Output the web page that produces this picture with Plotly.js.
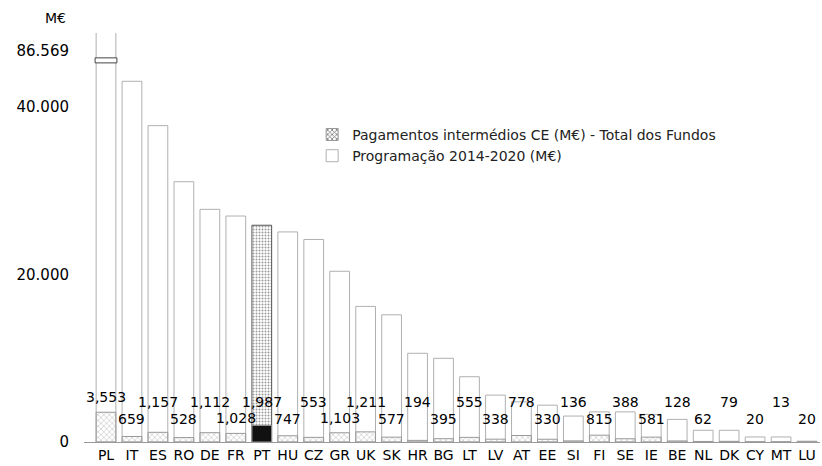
<!DOCTYPE html>
<html>
<head>
<meta charset="utf-8">
<script src="https://cdn.plot.ly/plotly-3.0.1.min.js"></script>
<style>
html,body{margin:0;padding:0;background:#fff;}
#chart{width:822px;height:466px;}
</style>
</head>
<body>
<div id="chart"></div>
<script>
// ---- data ----
const countries = ['PL','IT','ES','RO','DE','FR','PT','HU','CZ','GR','UK','SK','HR','BG','LT','LV','AT','EE','SI','FI','SE','IE','BE','NL','DK','CY','MT','LU'];
const programacao = [86569, 43100, 37800, 31100, 27800, 27000, 25900, 25100, 24200, 20400, 16200, 15200, 10600, 10000, 7800, 5600, 4800, 4400, 3100, 3600, 3600, 3300, 2700, 1400, 1400, 600, 600, 100];
const pagamentos = [3553, 659, 1157, 528, 1112, 1028, 1987, 747, 553, 1103, 1211, 577, 194, 395, 555, 338, 778, 330, 136, 815, 388, 581, 128, 62, 79, 20, 13, 20];
const highlight = 'PT';
const yTickVals = [0, 20000, 40000, 46800];
const yTickText = ['0', '20.000', '40.000', '86.569'];
const seriesNames = ['Pagamentos intermédios CE (M€) - Total dos Fundos', 'Programação 2014-2020 (M€)'];

// ---- layout constants ----
const W = 822, H = 466;
const M = {l: 84, r: 2, t: 33, b: 24};
const yMax = 48870;
const plotH = H - M.t - M.b;
const pxPerUnit = plotH / yMax;
const FONT = 'DejaVu Sans, sans-serif';

const progColors = countries.map(c => c === highlight ? '#9a9a9a' : '#ffffff');
const progLine = countries.map(c => c === highlight ? '#555' : '#b0b0b0');
const progPattern = countries.map(c => c === highlight ? '.' : '');
const pagColors = countries.map(c => c === highlight ? '#111' : '#d6d6d6');
const pagPattern = countries.map(c => c === highlight ? '' : 'x');

const traceProg = {
  type: 'bar', x: countries, y: programacao, name: seriesNames[1],
  marker: {color: progColors, line: {color: progLine, width: 1},
           pattern: {shape: progPattern, fgcolor: '#333', size: 3, solidity: 0.35}},
  hoverinfo: 'x+y'
};
const tracePag = {
  type: 'bar', x: countries, y: pagamentos, name: seriesNames[0],
  marker: {color: pagColors, line: {color: '#999', width: 1},
           pattern: {shape: pagPattern, fgcolor: '#666', size: 4, solidity: 0.4}},
  hoverinfo: 'x+y'
};

const annotations = countries.map((c, i) => {
  const tier = (i % 2 === 0) ? 30 : 13;
  const shift = Math.max(tier, pagamentos[i] * pxPerUnit + 5);
  return {
    x: c, y: 0, xref: 'x', yref: 'y', yanchor: 'bottom', yshift: shift,
    text: pagamentos[i].toLocaleString('en-US'), showarrow: false,
    font: {family: FONT, size: 14, color: '#000'}
  };
});
annotations.push({
  xref: 'paper', yref: 'paper', x: -0.039, y: 1.037, xanchor: 'center', yanchor: 'middle',
  text: 'M€', showarrow: false, font: {family: FONT, size: 14, color: '#000'}
});

const layout = {
  width: W, height: H,
  margin: M,
  paper_bgcolor: '#fff', plot_bgcolor: '#fff',
  barmode: 'overlay', bargap: 0.24,
  font: {family: FONT, color: '#000'},
  showlegend: true,
  legend: {x: 0.31, y: 0.79, xanchor: 'left', yanchor: 'top', traceorder: 'reversed',
           font: {family: FONT, size: 14, color: '#222'}, bgcolor: 'rgba(0,0,0,0)',
           itemwidth: 30},
  xaxis: {type: 'category', showgrid: false, showline: true, linecolor: '#999', linewidth: 1,
          ticks: '', tickfont: {family: FONT, size: 14, color: '#000'}, zeroline: false},
  yaxis: {range: [0, yMax], tickvals: yTickVals, ticktext: yTickText, showgrid: false,
          zeroline: false, showline: false, ticks: '', ticklabelstandoff: 14,
          tickfont: {family: FONT, size: 15, color: '#000'}},
  annotations: annotations,
  shapes: [{
    type: 'rect', xref: 'x', yref: 'y', x0: -0.42, x1: 0.42, y0: 45300, y1: 45900,
    fillcolor: '#fff', line: {color: '#444', width: 1}, layer: 'above'
  }]
};

Plotly.newPlot('chart', [traceProg, tracePag], layout, {displayModeBar: false, staticPlot: true});
</script>
</body>
</html>
